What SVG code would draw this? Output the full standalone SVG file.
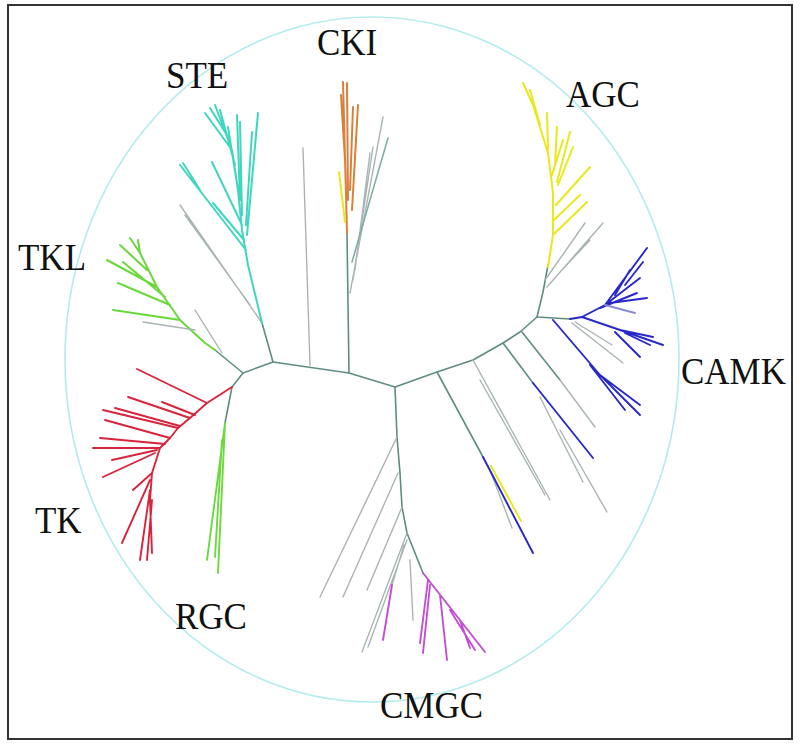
<svg xmlns="http://www.w3.org/2000/svg" width="800" height="745" viewBox="0 0 800 745">
<style>
path{fill:none;stroke-linecap:round;stroke-linejoin:round}
.bb{stroke:#5e8c84;stroke-width:1.6}
.gr{stroke:#aab4b4;stroke-width:1.4}
.ste{stroke:#3fd6be;stroke-width:2}
.cki{stroke:#d9803c;stroke-width:2}
.yel{stroke:#e8e81c;stroke-width:2}
.camk{stroke:#2828c8;stroke-width:1.9}
.tk{stroke:#d8243c;stroke-width:1.9}
.tkl{stroke:#6ad83c;stroke-width:2}
.rgc{stroke:#6ed840;stroke-width:1.9}
.cmgc{stroke:#c24ed4;stroke-width:1.9}
text{font-family:"Liberation Serif","Times New Roman",serif;font-size:35px;fill:#111}
</style>
<rect x="8" y="5" width="784" height="734" fill="#fff" stroke="#333" stroke-width="2"/>
<ellipse cx="372" cy="359.5" rx="307" ry="342.5" fill="none" stroke="#b2ecec" stroke-width="1.6"/>

<g id="connectors">
<path class="bb" d="M243,373 L273,362 L349,373 L395,387 L437,372 L473,360 L503,343 L520,332 L537,317"/>
<path class="bb" d="M273,362 L262,323 M349,373 L347,233 M537,317 L543,292 L548,265 M537,317 L570,319 M243,373 L215,350 M243,373 L232,387 L225,423 M395,387 L397,437 L400,473 L402,507 L407,533 L423,573 M522,332 L560,380 M503,343 L533,383 M437,372 L483,457"/>
</g>

<g id="clade-STE">
<path class="gr" d="M262,323 L180,205 M250,305 L185,215"/>
<path class="ste" d="M262,323 L248,265 L242,230 L238,190 L232,150 L215,105 M232,150 L205,113 M235,165 L220,110 M238,190 L228,127 M240,200 L237,115 M242,215 L240,122 M247,235 L258,113 M246,225 L252,132 M246,250 L180,165 M200,190 L183,163 M242,225 L212,162 M244,240 L213,203 M230,140 L210,108"/>
<text x="166" y="88" transform="translate(0,88) scale(1,1.1) translate(0,-88)">STE</text>
</g>

<g id="clade-other">
<path class="gr" d="M310,365 L303,148"/>
</g>

<g id="clade-CKI">
<path class="gr" d="M350,293 L383,117 M355,270 L370,153 M353,280 L373,147"/>
<path class="bb" d="M352,262 L388,138" style="stroke:#7fb0a8"/>
<path class="cki" d="M347,233 L343,82 M348,200 L347,83 M350,190 L353,107 M352,210 L358,105 M345,160 L341,95"/>
<path class="yel" d="M345,222 L339,172"/>
<text x="317" y="55" transform="translate(0,55) scale(1,1.1) translate(0,-55)">CKI</text>
</g>

<g id="clade-AGC">
<path class="gr" d="M547,287 L603,223 M545,280 L585,223 M560,272 L590,240"/>
<path class="yel" d="M548,267 L553,235 L553,193 L548,153 L533,105 L523,83 M548,150 L547,113 M555,165 L557,127 M557,182 L570,132 M558,185 L573,147 M556,205 L590,167 M553,235 L587,202 M540,125 L530,90 M552,175 L563,140 M554,220 L580,195"/>
<text x="566" y="107" transform="translate(0,107) scale(1,1.1) translate(0,-107)">AGC</text>
</g>

<g id="clade-CAMK">
<path class="gr" d="M572,323 L623,363 M575,322 L612,345 M560,380 L595,427 M540,397 L583,482 M560,430 L607,512 M473,360 L550,500 M480,380 L545,495 M490,470 L512,528"/>
<path class="camk" d="M570,319 L582,317 M582,317 L605,305 L647,248 M605,305 L640,278 M610,303 L647,298 M600,308 L637,293 M615,295 L630,270 M625,285 L643,262 M582,317 L620,330 L663,345 M620,330 L653,337 M615,332 L640,357 M625,333 L650,345 M553,320 L600,375 L640,415 M600,375 L640,405 M590,365 L625,410 M533,383 L593,458 M483,457 L533,553"/>
<path class="camk" d="M605,305 L635,313" style="stroke:#8a8ad8"/>
<path class="yel" d="M491,466 L521,521"/>
<text x="681" y="384" transform="translate(0,384) scale(1,1.1) translate(0,-384)">CAMK</text>
</g>

<g id="clade-TKL">
<path class="gr" d="M222,353 L195,310"/>
<path class="tkl" d="M215,350 L205,343 L180,320 L157,287 L140,253 L130,238 M140,253 L138,240 M157,287 L107,260 M165,297 L123,262 M180,320 L113,310 M170,305 L118,283 M147,270 L120,245"/>
<path class="gr" d="M195,330 L143,322"/>
<text x="18" y="270" transform="translate(0,270) scale(1,1.1) translate(0,-270)">TKL</text>
</g>

<g id="clade-TK">
<path class="tk" d="M232,387 L207,403 L190,418 L178,428 L170,438 L160,448 L152,473 L150,500 L152,553 M207,403 L137,369 M190,418 L128,397 M195,415 L162,402 M178,428 L103,410 M180,426 L115,408 M160,448 L93,448 M165,444 L100,438 M155,453 L103,477 M157,450 L112,460 M152,473 L133,490 M150,480 L122,543 M150,490 L140,560 M152,500 L147,560 M170,438 L105,420"/>
<text x="35" y="533" transform="translate(0,533) scale(1,1.1) translate(0,-533)">TK</text>
</g>

<g id="clade-RGC">
<path class="rgc" d="M225,423 L207,560 M225,423 L218,573 M222,440 L215,557"/>
<text x="175" y="629" transform="translate(0,629) scale(1,1.1) translate(0,-629)">RGC</text>
</g>

<g id="clade-CMGC">
<path class="gr" d="M397,437 L320,597 M398,473 L343,597 M402,507 L367,590 M407,533 L362,652 M407,540 L368,647 M410,560 L413,620 M404,545 L392,585"/>
<path class="cmgc" d="M423,573 L485,652 M440,595 L447,660 M430,585 L423,653 M428,580 L420,643 M450,610 L475,650 M460,620 L470,648 M392,585 L383,640"/>
<text x="380" y="718" transform="translate(0,718) scale(1,1.1) translate(0,-718)">CMGC</text>
</g>
</svg>
